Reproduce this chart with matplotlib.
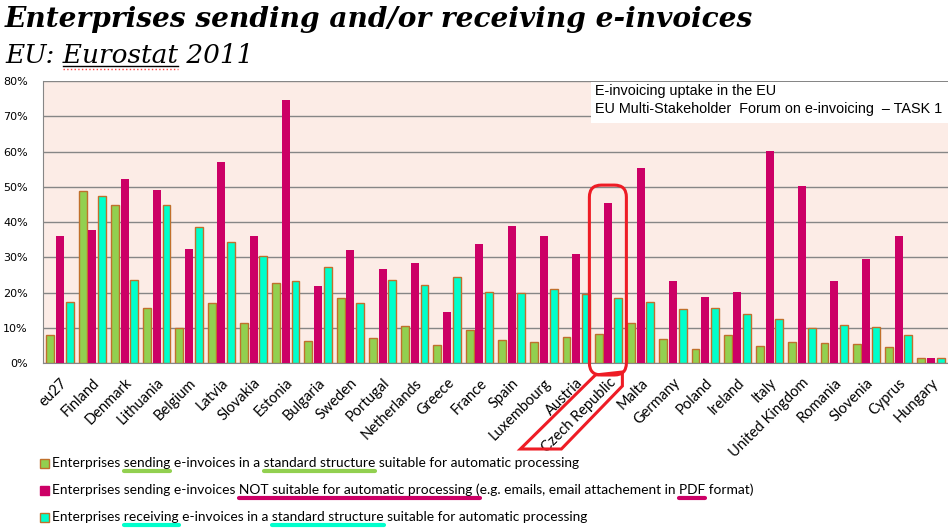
import numpy as np
import matplotlib.pyplot as plt
from matplotlib.patches import Rectangle, Polygon, FancyBboxPatch
from matplotlib.lines import Line2D
from matplotlib.transforms import Affine2D

countries = ['eu27', 'Finland', 'Denmark', 'Lithuania', 'Belgium', 'Latvia', 'Slovakia',
             'Estonia', 'Bulgaria', 'Sweden', 'Portugal', 'Netherlands', 'Greece', 'France',
             'Spain', 'Luxembourg', 'Austria', 'Czech Republic', 'Malta', 'Germany', 'Poland',
             'Ireland', 'Italy', 'United Kingdom', 'Romania', 'Slovenia', 'Cyprus', 'Hungary']

# % of enterprises
sending_std = [8.0, 48.7, 45.0, 15.6, 9.9, 17.0, 11.3, 22.7, 6.2, 18.4, 7.1, 10.5, 5.1, 9.3,
               6.5, 5.9, 7.4, 8.2, 11.3, 6.8, 4.0, 7.9, 4.8, 5.9, 5.7, 5.4, 4.5, 1.4]
sending_not = [36.1, 37.8, 52.2, 49.1, 32.4, 57.0, 36.1, 74.6, 21.9, 32.1, 26.7, 28.4, 14.5, 33.8,
               38.9, 36.1, 31.0, 45.4, 55.3, 23.3, 18.8, 20.2, 60.1, 50.2, 23.3, 29.5, 36.1, 1.4]
receiving_std = [17.3, 47.3, 23.5, 44.8, 38.5, 34.3, 30.3, 23.2, 27.2, 17.0, 23.5, 22.1, 24.4, 20.1,
                 19.8, 21.0, 19.5, 18.4, 17.3, 15.3, 15.6, 13.9, 12.5, 9.9, 10.8, 10.2, 7.9, 1.4]

W, H = 948, 531
GREEN, MAGENTA, CYAN, EDGE = '#92d050', '#cc0066', '#00ffcc', '#c0702c'

fig = plt.figure(figsize=(W / 100, H / 100), dpi=100)
# pixel coordinates measured from the top-left corner
pix = Affine2D().scale(1 / W, -1 / H).translate(0, 1) + fig.transFigure
renderer = fig.canvas.get_renderer()


def text_width(s, **kw):
    t = fig.text(0, 0, s, **kw)
    w = t.get_window_extent(renderer).width
    t.remove()
    return w


def span(label, part, **kw):
    # horizontal extent (px) of a substring inside a text line
    k = label.index(part)
    end = text_width(label[:k + len(part)], **kw)
    return end - text_width(part.strip(), **kw), end


ax = fig.add_axes([43 / W, 1 - 363.3 / H, 905 / W, (363.3 - 81) / H])
ax.set_facecolor('#fcece6')

x = np.arange(len(countries))
off, bw = 0.30, 0.245
ax.bar(x - off, sending_std, bw, color=GREEN, edgecolor=EDGE, linewidth=1, zorder=3)
ax.bar(x, sending_not, bw, color=MAGENTA, linewidth=0, zorder=3)
ax.bar(x + off, receiving_std, bw, color=CYAN, edgecolor=EDGE, linewidth=1, zorder=3)

ax.set_xlim(-0.53, len(countries) - 0.47)
ax.set_ylim(0, 80)
ax.set_yticks(range(0, 81, 10))
ax.set_yticklabels([f'{v}%' for v in range(0, 81, 10)], family='DejaVu Sans', fontsize=8)
ax.yaxis.grid(True, color='#868686', linewidth=1)
ax.set_axisbelow(True)
ax.tick_params(axis='y', length=0, pad=11)
ax.tick_params(axis='x', length=0, pad=9)
ax.set_xticks(x)
ax.set_xticklabels(countries, rotation=45, ha='right', va='top', rotation_mode='anchor',
                   family='Lato', fontsize=10.5)
for s in ['top', 'right']:
    ax.spines[s].set_visible(False)
for s in ['left', 'bottom']:
    ax.spines[s].set_color('#868686')

# title
fig.text(5, 27, 'Enterprises sending and/or receiving e-invoices', transform=pix,
         family='DejaVu Serif', weight='bold', style='italic', fontsize=20.2, va='baseline')
sub_font = dict(family='DejaVu Serif', style='italic', fontsize=19)
subtitle = 'EU: Eurostat 2011'
fig.text(5, 63, subtitle, transform=pix, va='baseline', **sub_font)
u0, u1 = span(subtitle, 'Eurostat', **sub_font)
fig.lines.append(Line2D([5 + u0, 5 + u1], [66, 66], transform=pix, color='black', linewidth=1))
fig.lines.append(Line2D([5 + u0, 5 + u1], [68.5, 68.5], transform=pix, color='#ff4040',
                        linewidth=1, linestyle=':'))

# source box
fig.patches.append(Rectangle((591, 82), 357, 41, transform=pix, facecolor='white',
                             edgecolor='none', zorder=5))
fig.text(595, 91, 'E-invoicing uptake in the EU', transform=pix, family='Liberation Sans',
         fontsize=10.4, va='center', zorder=6)
fig.text(595, 109, 'EU Multi-Stakeholder  Forum on e-invoicing  \u2013 TASK 1', transform=pix,
         family='Liberation Sans', fontsize=10.4, va='center', zorder=6)

# legend with hand-drawn underlines
leg_font = dict(family='Lato', fontsize=9.9)
legend_rows = [
    ('Enterprises sending e-invoices in a standard structure suitable for automatic processing',
     GREEN, EDGE, ['sending', 'standard structure']),
    ('Enterprises sending e-invoices NOT suitable for automatic processing (e.g. emails, email attachement in PDF format)',
     MAGENTA, MAGENTA, [' NOT suitable for automatic processing (', 'PDF']),
    ('Enterprises receiving e-invoices in a standard structure suitable for automatic processing',
     CYAN, EDGE, ['receiving', 'standard structure']),
]
for i, (label, fc, ec, marks) in enumerate(legend_rows):
    yc = 463 + i * 27
    fig.patches.append(Rectangle((40, yc - 4.5), 9, 9, transform=pix, facecolor=fc,
                                 edgecolor=ec, linewidth=1))
    fig.text(52, yc, label, transform=pix, va='center', **leg_font)
    for m in marks:
        start, end = span(label, m, **leg_font)
        fig.lines.append(Line2D([52 + start, 52 + end], [yc + 7.5, yc + 7.5], transform=pix,
                                color=fc, linewidth=3, solid_capstyle='round'))

# red highlight around Czech Republic
ic = countries.index('Czech Republic')
xc = ax.transData.transform((ic, 0))[0]
xl, xr = xc - 19, xc + 18
ytop = H - ax.transData.transform((0, 50.5))[1]
fig.patches.append(FancyBboxPatch((xl, ytop), xr - xl, 375 - ytop, transform=pix,
                                  boxstyle='round,pad=0,rounding_size=12', fill=False,
                                  edgecolor='#ee1c25', linewidth=2.2, zorder=7))
fig.patches.append(Polygon([(xl + 6, 375), (xr - 4, 372), (xr - 4, 386), (xl - 28, 449),
                            (xl - 69, 449)], closed=True, transform=pix, fill=False,
                           edgecolor='#ee1c25', linewidth=2.2, zorder=7))

fig.savefig('out.png', dpi=100)
